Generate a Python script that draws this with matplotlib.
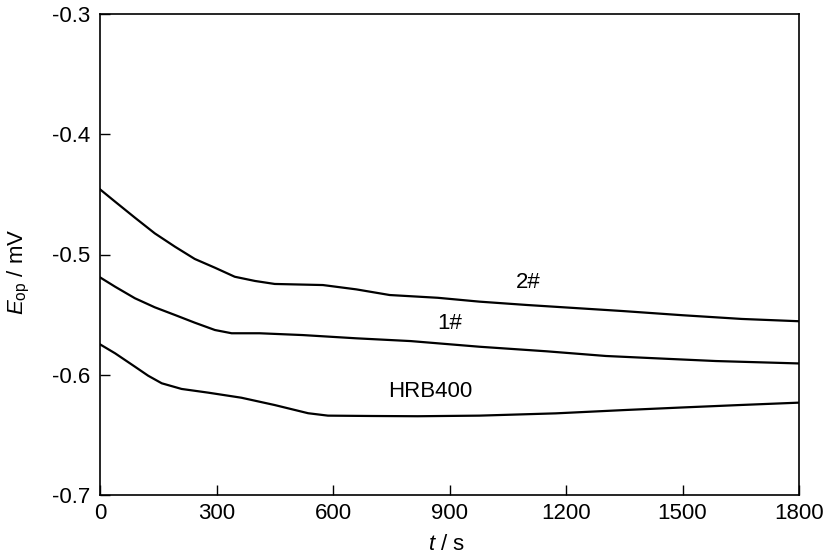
import matplotlib
matplotlib.use("Agg")
import matplotlib.pyplot as plt

plt.rcParams['font.family'] = ['Liberation Sans', 'DejaVu Sans']
plt.rcParams['mathtext.fontset'] = 'custom'
plt.rcParams['mathtext.rm'] = 'Liberation Sans'
plt.rcParams['mathtext.it'] = 'Liberation Sans:italic'

# Data
t_2 = [0, 39, 90, 141, 193, 244, 296, 347, 399, 450, 574, 660, 746, 870, 977, 1100,
       1345, 1500, 1653, 1800]
e_2 = [-0.4458, -0.4561, -0.4694, -0.4824, -0.4935, -0.5037, -0.5110, -0.5185, -0.5220,
       -0.5245, -0.5254, -0.5290, -0.5337, -0.5360, -0.5392, -0.5420,
       -0.5470, -0.5505, -0.5536, -0.5555]

t_1 = [0, 39, 90, 141, 193, 244, 296, 339, 411, 522, 660, 800, 977, 1150, 1303, 1450,
       1586, 1800]
e_1 = [-0.5190, -0.5268, -0.5364, -0.5439, -0.5503, -0.5567, -0.5628, -0.5655, -0.5655,
       -0.5670, -0.5697, -0.5720, -0.5767, -0.5805, -0.5844, -0.5866, -0.5886, -0.5906]

t_h = [0, 39, 90, 124, 159, 210, 279, 364, 450, 536, 587, 699, 818, 977, 1174, 1354,
       1500, 1646, 1800]
e_h = [-0.5747, -0.5822, -0.5933, -0.6008, -0.6071, -0.6118, -0.6149, -0.6191, -0.6252,
       -0.6320, -0.6340, -0.6343, -0.6345, -0.6340, -0.6321, -0.6293, -0.6272, -0.6252,
       -0.6232]

labels = ["2#", "1#", "HRB400"]
label_t = [1103, 900, 850]
label_e = [-0.5237, -0.5574, -0.6139]

x_ticks = [0, 300, 600, 900, 1200, 1500, 1800]
y_ticks = [-0.7, -0.6, -0.5, -0.4, -0.3]
y_ticklabels = ["-0.7", "-0.6", "-0.5", "-0.4", "-0.3"]

fig = plt.figure(figsize=(8.27, 5.57), dpi=100)
ax = fig.add_axes([100/827, 1-495/557, 699/827, 481/557])

for t, e in [(t_2, e_2), (t_1, e_1), (t_h, e_h)]:
    ax.plot(t, e, color='black', lw=1.6)

for s, x, y in zip(labels, label_t, label_e):
    ax.text(x, y, s, ha='center', va='center', fontsize=16)

ax.set_xlim(0, 1800)
ax.set_ylim(-0.7, -0.3)
ax.set_xticks(x_ticks)
ax.set_yticks(y_ticks)
ax.set_yticklabels(y_ticklabels)
ax.tick_params(direction='in', length=7, width=1, labelsize=16, top=False, right=False)
ax.tick_params(axis='x', pad=6)
ax.tick_params(axis='y', pad=7)
for sp in ax.spines.values():
    sp.set_linewidth(1.2)

fig.text(447/827, 1-544/557, r'$\mathit{t}$ / s', ha='center', va='center', fontsize=16)
fig.text(19/827, 1-272/557, r'$\mathit{E}_{\rm op}$ / mV', ha='center', va='center',
         rotation=90, fontsize=16)

fig.savefig('out.png', dpi=100)
